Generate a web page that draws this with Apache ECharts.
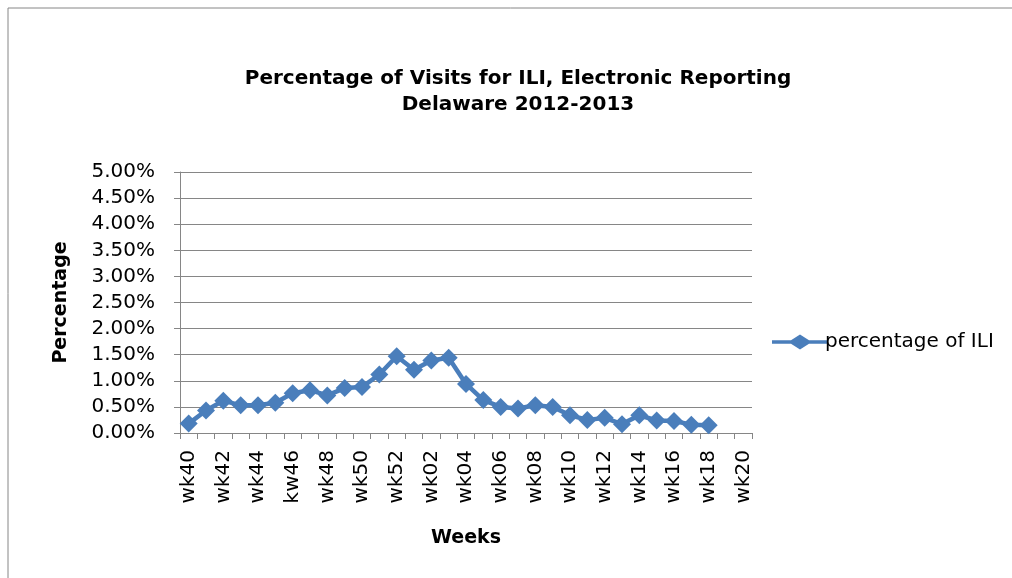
<!DOCTYPE html>
<html>
<head>
<meta charset="utf-8">
<script src="https://cdn.jsdelivr.net/npm/echarts@6/dist/echarts.min.js"></script>
<style>
html,body{margin:0;padding:0;background:#fff;}
#chart{width:1012px;height:578px;}
</style>
</head>
<body>
<div id="chart"></div>
<script>
const weeks = ['wk40','wk41','wk42','wk43','wk44','wk45','kw46','wk47','wk48','wk49','wk50','wk51','wk52',
  'wk01','wk02','wk03','wk04','wk05','wk06','wk07','wk08','wk09','wk10','wk11','wk12','wk13','wk14','wk15','wk16','wk17','wk18','wk19','wk20'];
const iliPercent = [0.18,0.43,0.62,0.53,0.53,0.58,0.76,0.82,0.72,0.86,0.88,1.12,1.47,
  1.21,1.39,1.44,0.94,0.63,0.50,0.47,0.53,0.50,0.34,0.25,0.29,0.17,0.34,0.24,0.23,0.16,0.15,null,null];
const yTicks = {min:0, max:5, interval:0.5};
const seriesName = 'percentage of ILI';

const chart = echarts.init(document.getElementById('chart'));
const font = '"DejaVu Sans", sans-serif';
chart.setOption({
  animation:false,
  backgroundColor:'#fff',
  graphic:[{type:'rect',shape:{x:8,y:8,width:1010,height:580},style:{fill:'none',stroke:'#868686',lineWidth:1},silent:true}],
  title:{
    text:'Percentage of Visits for ILI, Electronic Reporting\nDelaware 2012-2013',
    left:513, top:61, textAlign:'center',
    textStyle:{fontFamily:font,fontSize:20,fontWeight:'bold',color:'#000',lineHeight:26}
  },
  legend:{
    data:[{name:seriesName, icon:'path://M0,5.75L19,5.75L28,0L37,5.75L56,5.75L56,9.25L37,9.25L28,15L19,9.25L0,9.25Z'}],
    left:767, top:327, itemWidth:56, itemHeight:15, itemGap:0,
    itemStyle:{color:'#4a7ebb',borderWidth:0},
    textStyle:{fontFamily:font,fontSize:20,color:'#000',padding:[0,0,0,-8]}
  },
  grid:{left:180,right:260,top:172,bottom:145,containLabel:false},
  xAxis:{
    type:'category', data:weeks, boundaryGap:true,
    name:'Weeks', nameLocation:'middle', nameGap:96,
    nameTextStyle:{fontFamily:font,fontSize:19,fontWeight:'bold',color:'#000'},
    axisLine:{lineStyle:{color:'#868686',width:1}},
    axisTick:{show:true,interval:0,length:6,lineStyle:{color:'#868686'}},
    axisLabel:{interval:1,rotate:90,margin:17,fontFamily:font,fontSize:20,color:'#000'},
    splitLine:{show:false}
  },
  yAxis:{
    type:'value', min:yTicks.min, max:yTicks.max, interval:yTicks.interval,
    name:'Percentage', nameLocation:'middle', nameGap:109, nameRotate:90,
    nameTextStyle:{fontFamily:font,fontSize:19,fontWeight:'bold',color:'#000'},
    axisLine:{show:true,lineStyle:{color:'#868686',width:1}},
    axisTick:{show:true,length:6,lineStyle:{color:'#868686'}},
    axisLabel:{margin:25,fontFamily:font,fontSize:20,color:'#000',formatter:v=>v.toFixed(2)+'%'},
    splitLine:{show:true,lineStyle:{color:'#868686',width:1}}
  },
  series:[{
    name:seriesName, type:'line', data:iliPercent,
    symbol:'diamond', symbolSize:18, showSymbol:true, showAllSymbol:true,
    lineStyle:{color:'#4a7ebb',width:4.5},
    itemStyle:{color:'#4a7ebb'},
    connectNulls:false
  }]
});
</script>
</body>
</html>
